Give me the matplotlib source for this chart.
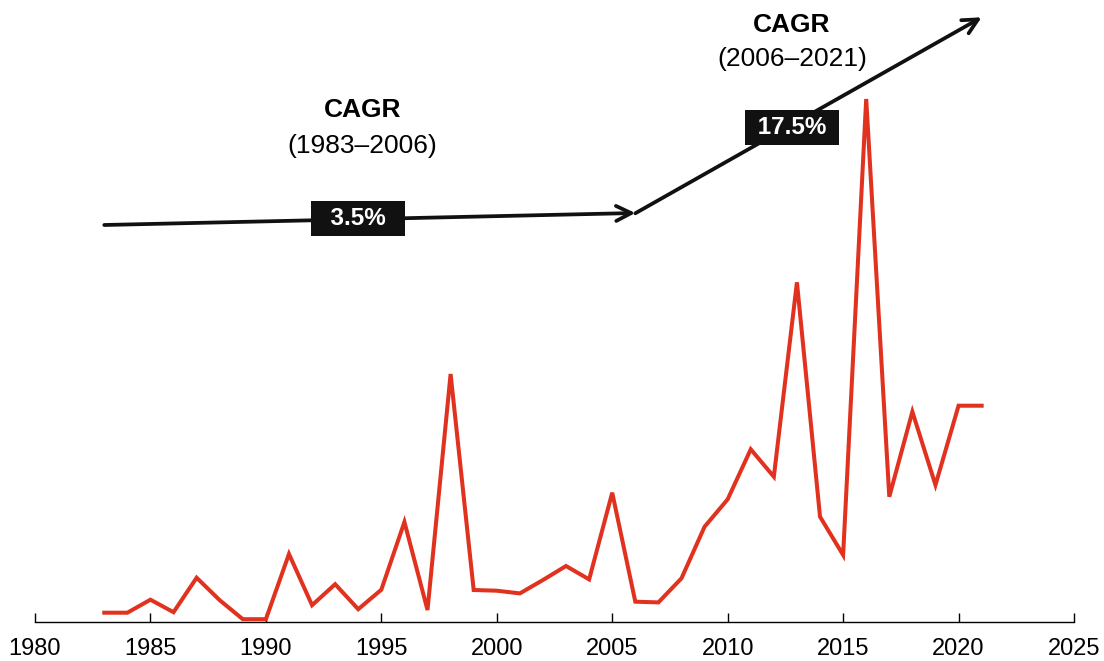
import matplotlib.pyplot as plt

plt.rcParams['font.family'] = ['Liberation Sans', 'DejaVu Sans']

# Yearly series (arbitrary units)
years = list(range(1983, 2022))
values = [9, 9, 22, 9.5, 44, 21.5, 2.5, 2.5, 67.7, 16.5,
          37.5, 12.5, 32, 99.7, 11.7, 247.7, 31.7, 31, 28.3, 41.7,
          55.7, 42.3, 129, 20, 19.3, 43.4, 95, 122.4, 172.4, 145,
          339.4, 105, 66.7, 522.7, 125, 210, 136.7, 216, 216]

# CAGR periods and labels
periods = [(1983, 2006), (2006, 2021)]
cagr_labels = ['3.5%', '17.5%']
xticks = [1980, 1985, 1990, 1995, 2000, 2005, 2010, 2015, 2020, 2025]

fig = plt.figure(figsize=(11.04, 6.61), dpi=100)
ax = fig.add_axes([35 / 1104, 1 - 621.7 / 661, 1039 / 1104, 621.7 / 661])
ax.set_xlim(1980, 2025)
ax.set_ylim(0, 621.7)

ax.plot(years, values, color='#e1321f', lw=2.9, solid_joinstyle='miter', zorder=2)

# CAGR arrows
arrow_kw = dict(arrowstyle='->', lw=2.7, color='#111111', mutation_scale=27,
                shrinkA=0, shrinkB=0)
ax.annotate('', xy=(periods[0][1], 408.7), xytext=(periods[0][0], 396.7),
            arrowprops=arrow_kw, zorder=3)
ax.annotate('', xy=(periods[1][1], 604.4), xytext=(periods[1][0], 408.4),
            arrowprops=arrow_kw, zorder=3)

# rate boxes
box = dict(boxstyle='square,pad=0.25', fc='#111111', ec='none')
ax.text(1994.0, 396.7, '  ' + cagr_labels[0] + '  ', color='white', fontsize=17.5,
        fontweight='bold', ha='center', va='baseline', bbox=box, zorder=4)
ax.text(2012.8, 487.5, ' ' + cagr_labels[1] + ' ', color='white', fontsize=17.5,
        fontweight='bold', ha='center', va='baseline', bbox=box, zorder=4)

# headings
ax.text(1994.17, 504.4, 'CAGR', fontsize=19, fontweight='bold',
        ha='center', va='baseline')
ax.text(1994.17, 469.0, f'({periods[0][0]}–{periods[0][1]})', fontsize=19,
        ha='center', va='baseline')
ax.text(2012.78, 589.4, 'CAGR', fontsize=19, fontweight='bold',
        ha='center', va='baseline')
ax.text(2012.78, 556.0, f'({periods[1][0]}–{periods[1][1]})', fontsize=19,
        ha='center', va='baseline')

for s in ['left', 'top', 'right']:
    ax.spines[s].set_visible(False)
ax.spines['bottom'].set_linewidth(1.0)
ax.set_yticks([])
ax.set_xticks(xticks)
ax.tick_params(axis='x', direction='in', length=6.3, width=1.0, pad=12,
               labelsize=17)
ax.patch.set_alpha(0)

fig.savefig('out.png', dpi=100)
